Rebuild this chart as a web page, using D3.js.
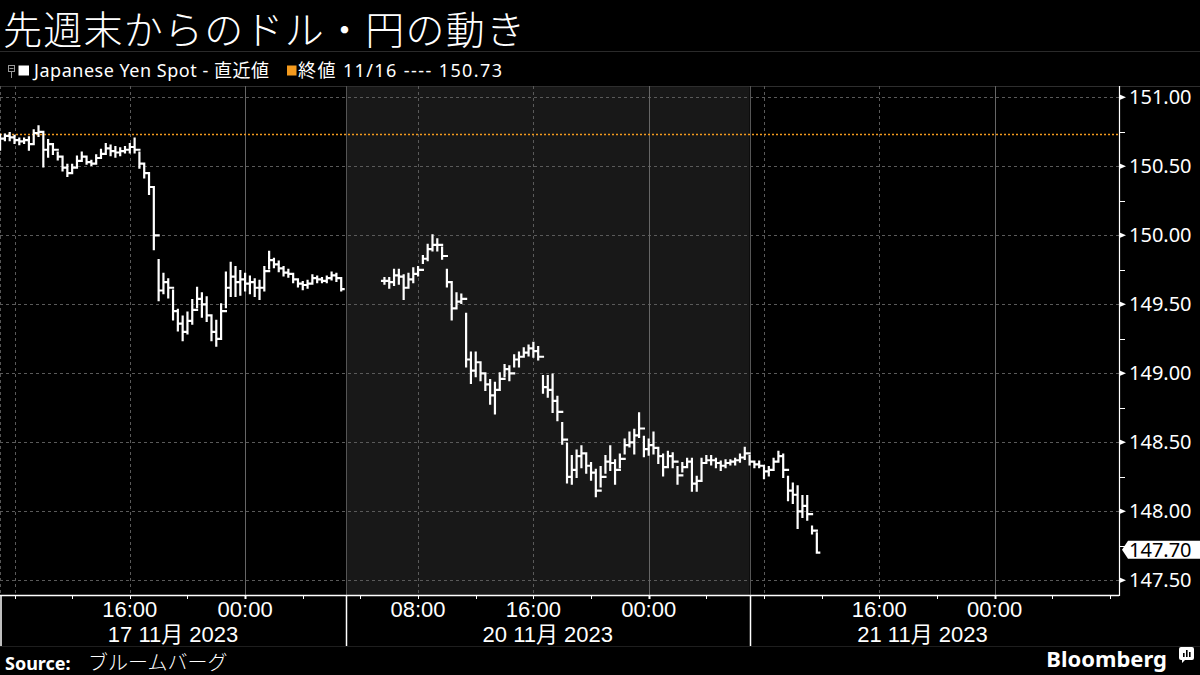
<!DOCTYPE html>
<html><head><meta charset="utf-8">
<script src="https://cdn.jsdelivr.net/npm/d3@7"></script>
<style>
body{margin:0;background:#000;}
svg{display:block;}
text{font-family:"Noto Sans","Noto Sans CJK JP",sans-serif;}
</style></head><body>
<svg id="c" width="1200" height="675"></svg>
<script>
// ---------- DATA ----------
const title = "先週末からのドル・円の動き";
const seriesName = "Japanese Yen Spot - 直近値";
const refLabel = "終値 11/16 ---- 150.73";
const refValue = 150.73;
const lastValue = 147.70;
const sourceLabel = "Source:";
const sourceText = "ブルームバーグ";

// hour index (trading hours, weekend collapsed); 20-minute bars
const barStepHours = 1 / 3;
const seg1StartHour = 0;
const seg2StartHour = 26 + 2 / 3;

const seg1High = [150.73,150.73,150.74,150.72,150.70,150.70,150.71,150.76,150.79,150.75,
  150.69,150.66,150.60,150.56,150.51,150.51,150.57,150.60,150.57,150.54,
  150.58,150.62,150.66,150.65,150.64,150.63,150.64,150.66,150.70,150.60,
  150.51,150.44,150.35,149.82,149.72,149.68,149.60,149.46,149.41,149.44,
  149.53,149.62,149.58,149.55,149.41,149.38,149.50,149.73,149.80,149.77,
  149.74,149.72,149.70,149.68,149.67,149.77,149.88,149.83,149.81,149.77,
  149.75,149.71,149.68,149.66,149.67,149.71,149.70,149.69,149.70,149.73,
  149.72,149.69];
const seg1Low = [150.62,150.69,150.69,150.67,150.66,150.67,150.62,150.66,150.72,150.50,
  150.57,150.59,150.55,150.47,150.43,150.45,150.50,150.55,150.52,150.51,
  150.53,150.57,150.59,150.58,150.57,150.58,150.60,150.60,150.60,150.49,
  150.42,150.30,149.90,149.53,149.58,149.55,149.39,149.31,149.24,149.29,
  149.36,149.48,149.41,149.38,149.24,149.20,149.26,149.48,149.56,149.56,
  149.57,149.60,149.58,149.56,149.54,149.60,149.76,149.77,149.74,149.71,
  149.70,149.66,149.63,149.61,149.62,149.66,149.66,149.66,149.66,149.68,
  149.67,149.60];
const seg1Close = [150.70,150.72,150.71,150.69,150.68,150.69,150.66,150.74,150.75,150.62,
  150.66,150.62,150.57,150.49,150.45,150.49,150.54,150.57,150.53,150.52,
  150.56,150.59,150.63,150.61,150.60,150.61,150.62,150.64,150.62,150.52,
  150.45,150.35,150.00,149.60,149.66,149.62,149.45,149.36,149.30,149.38,
  149.46,149.54,149.50,149.42,149.30,149.25,149.45,149.62,149.70,149.66,
  149.68,149.65,149.66,149.62,149.62,149.74,149.82,149.79,149.76,149.73,
  149.72,149.68,149.65,149.64,149.65,149.69,149.68,149.67,149.69,149.71,
  149.69,149.61];

const seg2High = [149.69,149.69,149.75,149.75,149.71,149.72,149.76,149.77,149.85,149.93,
  150.00,149.97,149.91,149.75,149.65,149.58,149.57,149.43,149.15,149.15,
  149.07,149.00,148.95,148.93,149.00,149.06,149.05,149.13,149.15,149.18,
  149.20,149.22,149.19,148.98,148.98,148.99,148.83,148.64,148.49,148.40,
  148.44,148.47,148.42,148.35,148.30,148.32,148.40,148.47,148.37,148.41,
  148.52,148.57,148.59,148.71,148.54,148.52,148.57,148.45,148.41,148.43,
  148.42,148.32,148.35,148.38,148.38,148.25,148.38,148.40,148.40,148.38,
  148.36,148.37,148.37,148.38,148.41,148.46,148.40,148.36,148.36,148.32,
  148.32,148.38,148.43,148.41,148.25,148.20,148.18,148.11,148.11,147.89,
  147.84];
const seg2Low = [149.65,149.62,149.64,149.65,149.54,149.63,149.66,149.71,149.80,149.82,
  149.89,149.89,149.83,149.63,149.39,149.48,149.51,149.05,148.93,148.98,
  148.95,148.88,148.78,148.71,148.88,148.98,148.95,149.05,149.05,149.12,
  149.13,149.12,149.10,148.86,148.83,148.72,148.66,148.49,148.21,148.20,
  148.25,148.32,148.28,148.23,148.11,148.18,148.28,148.30,148.20,148.32,
  148.42,148.47,148.42,148.54,148.40,148.41,148.42,148.35,148.26,148.32,
  148.32,148.20,148.29,148.32,148.15,148.15,148.23,148.35,148.34,148.32,
  148.30,148.32,148.34,148.34,148.36,148.38,148.34,148.32,148.32,148.24,
  148.26,148.30,148.36,148.25,148.08,148.06,147.88,147.96,147.94,147.84,
  147.70];
const seg2Close = [149.67,149.66,149.71,149.70,149.62,149.68,149.72,149.75,149.83,149.90,
  149.93,149.93,149.85,149.66,149.47,149.52,149.54,149.10,149.02,149.08,
  149.00,148.92,148.84,148.88,148.96,149.03,149.00,149.10,149.12,149.15,
  149.18,149.16,149.12,148.90,148.88,148.80,148.72,148.52,148.25,148.30,
  148.40,148.42,148.33,148.28,148.15,148.25,148.36,148.35,148.30,148.38,
  148.48,148.50,148.55,148.60,148.45,148.48,148.46,148.40,148.32,148.40,
  148.36,148.26,148.32,148.36,148.20,148.22,148.35,148.37,148.37,148.35,
  148.33,148.35,148.36,148.37,148.39,148.42,148.36,148.34,148.33,148.29,
  148.30,148.36,148.40,148.30,148.15,148.12,148.00,148.04,147.98,147.86,
  147.70];

// x-axis ticks (hour index) and labels
const timeTickHours = [1, 9, 17, 29, 37, 45, 53, 61, 69];
const timeTickLabels = ["", "16:00", "00:00", "08:00", "16:00", "00:00", "", "16:00", "00:00"];
const midnightHours = [17, 45, 69];
const minorTickHours = d3.range(1, 78, 4);
const dayBreakHours = [0, 24, 52];
const dayLabelSpans = [[0, 24], [24, 52], [52, 76]];
const dayLabels = ["17 11月 2023", "20 11月 2023", "21 11月 2023"];
const shadedSpan = [24, 52];
const yTicks = [147.5, 148.0, 148.5, 149.0, 149.5, 150.0, 150.5, 151.0];
const yMinorTicks = [147.75, 148.25, 148.75, 149.25, 149.75, 150.25, 150.75];

// ---------- CHART ----------
const W = 1200, H = 675;
const plot = {left: 0, right: 1119, top: 86, bottom: 595};
const axisFont = '"Liberation Sans","Noto Sans CJK JP",sans-serif';
const svg = d3.select("#c");
svg.append("rect").attr("width", W).attr("height", H).attr("fill", "#000");

const x = d3.scaleLinear().domain([1, 69]).range([14.5, 994.6]);
const y = d3.scaleLinear().domain([147.5, 151]).range([580.3, 97.3]);

// title
svg.append("text").attr("x", 3).attr("y", 44).attr("fill", "#fff")
  .attr("font-size", 39).attr("font-weight", 300)
  .attr("textLength", 522).attr("lengthAdjust", "spacing")
  .style("font-family", '"Noto Sans CJK JP", sans-serif').text(title);
svg.append("line").attr("x1", 0).attr("x2", W).attr("y1", 51.5).attr("y2", 51.5)
  .attr("stroke", "#2a2a2a");

// legend
const lg = svg.append("g");
lg.append("rect").attr("x", 8.5).attr("y", 65.5).attr("width", 6).attr("height", 6)
  .attr("fill", "none").attr("stroke", "#999");
lg.append("line").attr("x1", 11.5).attr("x2", 11.5).attr("y1", 71.5).attr("y2", 78)
  .attr("stroke", "#999");
lg.append("line").attr("x1", 9.5).attr("x2", 13.5).attr("y1", 68.5).attr("y2", 68.5)
  .attr("stroke", "#999");
lg.append("rect").attr("x", 18.5).attr("y", 65.5).attr("width", 10.5).attr("height", 10).attr("fill", "#fff");
lg.append("text").attr("x", 34).attr("y", 76.5).attr("fill", "#fff").attr("font-size", 18)
  .attr("textLength", 235).attr("lengthAdjust", "spacing").text(seriesName);
lg.append("rect").attr("x", 287).attr("y", 65.5).attr("width", 9.5).attr("height", 10).attr("fill", "#f39a1e");
lg.append("text").attr("x", 298).attr("y", 76.5).attr("fill", "#fff").attr("font-size", 18)
  .attr("textLength", 204).attr("lengthAdjust", "spacing").text(refLabel);
svg.append("line").attr("x1", 0).attr("x2", W).attr("y1", plot.top + 0.5).attr("y2", plot.top + 0.5)
  .attr("stroke", "#2e2e2e");

// shaded day
svg.append("rect").attr("x", x(shadedSpan[0])).attr("y", plot.top + 1)
  .attr("width", x(shadedSpan[1]) - x(shadedSpan[0])).attr("height", plot.bottom - plot.top - 1)
  .attr("fill", "#181818");

// horizontal grid
svg.append("g").selectAll("line").data(yTicks).join("line")
  .attr("x1", plot.left).attr("x2", plot.right)
  .attr("y1", d => Math.round(y(d)) + 0.5).attr("y2", d => Math.round(y(d)) + 0.5)
  .attr("stroke", "#5a5a5a").attr("stroke-dasharray", "3,3");

// vertical grid
svg.append("g").selectAll("line").data(timeTickHours).join("line")
  .attr("x1", d => Math.round(x(d)) + 0.5).attr("x2", d => Math.round(x(d)) + 0.5)
  .attr("y1", plot.top).attr("y2", plot.bottom)
  .attr("stroke", d => midnightHours.includes(d) ? "#666" : "#5a5a5a")
  .attr("stroke-dasharray", d => midnightHours.includes(d) ? null : "3,3");
svg.append("g").selectAll("line").data(dayBreakHours).join("line")
  .attr("x1", d => Math.max(0.5, Math.round(x(d)) + 0.5)).attr("x2", d => Math.max(0.5, Math.round(x(d)) + 0.5))
  .attr("y1", plot.top).attr("y2", plot.bottom)
  .attr("stroke", "#555").attr("stroke-dasharray", d => d === 0 ? "3,3" : null);

// reference (previous close) line
svg.append("line").attr("x1", plot.left).attr("x2", plot.right)
  .attr("y1", y(refValue)).attr("y2", y(refValue))
  .attr("stroke", "#f39a1e").attr("stroke-width", 1.6).attr("stroke-dasharray", "2,2");

// bars
svg.append("clipPath").attr("id", "clip").append("rect")
  .attr("x", plot.left).attr("y", plot.top).attr("width", plot.right - plot.left).attr("height", plot.bottom - plot.top);
function barPath(start, hi, lo, cl) {
  const half = (x(start + barStepHours) - x(start)) / 2;
  let p = "";
  hi.forEach((h, i) => {
    const xi = x(start + i * barStepHours);
    const o = i > 0 ? cl[i - 1] : cl[i];
    p += `M${xi},${y(h)}V${y(lo[i])}`;
    p += `M${xi - half},${y(o)}H${xi}`;
    p += `M${xi},${y(cl[i])}H${xi + half}`;
  });
  return p;
}
const bars = svg.append("g").attr("clip-path", "url(#clip)");
[[seg1StartHour, seg1High, seg1Low, seg1Close], [seg2StartHour, seg2High, seg2Low, seg2Close]]
  .forEach(s => bars.append("path").attr("d", barPath(...s))
    .attr("fill", "none").attr("stroke", "#fff").attr("stroke-width", 2.2).attr("stroke-linecap", "square"));

// x axis
svg.append("line").attr("x1", 0).attr("x2", plot.right).attr("y1", plot.bottom + 0.5).attr("y2", plot.bottom + 0.5)
  .attr("stroke", "#fff").attr("stroke-width", 1.5);
svg.append("g").selectAll("line").data(minorTickHours).join("line")
  .attr("x1", d => Math.round(x(d)) + 0.5).attr("x2", d => Math.round(x(d)) + 0.5)
  .attr("y1", plot.bottom).attr("y2", plot.bottom + 4)
  .attr("stroke", "#fff").attr("stroke-width", d => midnightHours.includes(d) ? 2 : 1);
svg.append("g").selectAll("line").data(dayBreakHours).join("line")
  .attr("x1", d => Math.max(1, Math.round(x(d)) + 0.5)).attr("x2", d => Math.max(1, Math.round(x(d)) + 0.5))
  .attr("y1", plot.bottom).attr("y2", 646)
  .attr("stroke", "#fff").attr("stroke-width", 1.5);
svg.append("line").attr("x1", 0).attr("x2", W).attr("y1", 646.5).attr("y2", 646.5).attr("stroke", "#1e1e1e");
svg.append("g").selectAll("text").data(timeTickHours.map((h, i) => [h, timeTickLabels[i]])).join("text")
  .attr("x", d => x(d[0])).attr("y", 616.5).attr("text-anchor", "middle")
  .style("font-family", axisFont)
  .attr("fill", "#fff").attr("font-size", 22).text(d => d[1]);
svg.append("g").selectAll("text").data(dayLabelSpans.map((s, i) => [s, dayLabels[i]])).join("text")
  .attr("x", d => (x(d[0][0]) + x(d[0][1])) / 2).attr("y", 642).attr("text-anchor", "middle")
  .style("font-family", axisFont)
  .attr("fill", "#fff").attr("font-size", 22).text(d => d[1]);

// y axis (right)
svg.append("line").attr("x1", plot.right + 0.5).attr("x2", plot.right + 0.5).attr("y1", plot.top).attr("y2", plot.bottom + 1)
  .attr("stroke", "#fff").attr("stroke-width", 1.2);
svg.append("g").selectAll("path").data(yTicks).join("path")
  .attr("d", d => `M${plot.right},${y(d) - 3}L${plot.right + 7},${y(d)}L${plot.right},${y(d) + 3}Z`)
  .attr("fill", "#fff");
svg.append("g").selectAll("line").data(yMinorTicks).join("line")
  .attr("x1", plot.right).attr("x2", plot.right + 6)
  .attr("y1", d => Math.round(y(d)) + 0.5).attr("y2", d => Math.round(y(d)) + 0.5)
  .attr("stroke", "#fff");
svg.append("g").selectAll("text").data(yTicks).join("text")
  .attr("x", plot.right + 10).attr("y", d => y(d) + 7)
  .attr("fill", "#fff").attr("font-size", 20).text(d => d.toFixed(2));

// last value tag
const yl = y(lastValue) - 3;
svg.append("path")
  .attr("d", `M${plot.right + 3},${yl}L${plot.right + 9},${yl - 9}H${W}V${yl + 9}H${plot.right + 9}Z`)
  .attr("fill", "#fff");
svg.append("text").attr("x", plot.right + 10).attr("y", yl + 7)
  .attr("fill", "#000").attr("font-size", 20).text(lastValue.toFixed(2));

// footer
svg.append("text").attr("x", 5).attr("y", 669.5).attr("fill", "#fff").attr("font-size", 18)
  .attr("font-weight", "bold").text(sourceLabel);
svg.append("text").attr("x", 88).attr("y", 669.5).attr("fill", "#fff").attr("font-size", 20)
  .attr("font-weight", 300).style("font-family", '"Noto Sans CJK JP", sans-serif').text(sourceText);
svg.append("text").attr("x", 1167).attr("y", 667).attr("text-anchor", "end")
  .attr("fill", "#fff").attr("font-size", 22).attr("font-weight", "bold").text("Bloomberg");
// logo glyph
const lgx = 1179, lgy = 647;
svg.append("path")
  .attr("d", `M${lgx + 2},${lgy}H${lgx + 13}Q${lgx + 15},${lgy} ${lgx + 15},${lgy + 2}V${lgy + 11}Q${lgx + 15},${lgy + 13} ${lgx + 13},${lgy + 13}H${lgx + 6}L${lgx + 3},${lgy + 16}V${lgy + 13}H${lgx + 2}Q${lgx},${lgy + 13} ${lgx},${lgy + 11}V${lgy + 2}Q${lgx},${lgy} ${lgx + 2},${lgy}Z`)
  .attr("fill", "#fff");
[[4, 6], [7, 3], [10, 5]].forEach(b => svg.append("rect")
  .attr("x", lgx + b[0]).attr("y", lgy + b[1]).attr("width", 1.6).attr("height", 10 - b[1])
  .attr("fill", "#000"));
</script>
</body></html>
